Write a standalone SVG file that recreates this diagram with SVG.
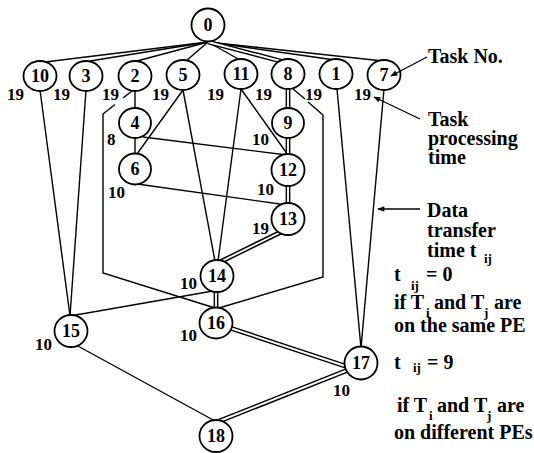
<svg xmlns="http://www.w3.org/2000/svg" width="534" height="453" viewBox="0 0 534 453">
<defs>
<style>
.n ellipse{fill:#fff;stroke:#000;stroke-width:1.8}
.n text{font-family:"Liberation Serif",serif;font-weight:bold;font-size:18px;text-anchor:middle;fill:#000}
.e line,.e polyline{stroke:#000;stroke-width:1.4;fill:none}
.e .d{stroke:#000;stroke-width:4.8}
.e .w{stroke:#fff;stroke-width:1.9}
.lb{font-family:"Liberation Serif",serif;font-weight:bold;font-size:17px;fill:#000}
.t{font-family:"Liberation Serif",serif;font-weight:bold;font-size:20px;fill:#000}
.s{font-size:13px}
.ar{stroke:#000;stroke-width:1.3;fill:none}
</style>
<marker id="ah" viewBox="0 0 10 10" refX="9" refY="5" markerWidth="8" markerHeight="7" orient="auto" markerUnits="userSpaceOnUse">
<path d="M0,1 L10,5 L0,9 z" fill="#000"/>
</marker>
</defs>
<rect width="534" height="453" fill="#fff"/>
<g id="connectors" class="e">
<line x1="208" y1="42" x2="45" y2="62"/>
<line x1="208" y1="42" x2="90" y2="61"/>
<line x1="208" y1="42" x2="137" y2="61"/>
<line x1="208" y1="42" x2="186" y2="61"/>
<line x1="208" y1="42" x2="240" y2="60"/>
<line x1="208" y1="42" x2="335" y2="60"/>
<line x1="208" y1="42" x2="383" y2="61"/>
<line class="d" x1="208" y1="42" x2="284" y2="62"/>
<line class="w" x1="208" y1="42" x2="284" y2="62"/>
<line x1="40" y1="90" x2="70" y2="316"/>
<line x1="86" y1="90" x2="70" y2="316"/>
<line x1="135" y1="91" x2="135" y2="108"/>
<line x1="132" y1="91" x2="123" y2="98"/>
<polyline points="115,104.5 103,114 103,273 215,308"/>
<line x1="293" y1="89" x2="305" y2="99"/>
<polyline points="308,102 323,115 323,277 219,308"/>
<line x1="135" y1="138" x2="135" y2="154"/>
<line x1="143" y1="137" x2="287" y2="155"/>
<line x1="183" y1="90" x2="137" y2="154"/>
<line x1="183" y1="90" x2="215" y2="261"/>
<line x1="241" y1="89" x2="218" y2="261"/>
<line x1="241" y1="89" x2="288" y2="155"/>
<line class="d" x1="288" y1="88" x2="288" y2="109"/>
<line class="w" x1="288" y1="88" x2="288" y2="109"/>
<line class="d" x1="288" y1="137" x2="288" y2="156"/>
<line class="w" x1="288" y1="137" x2="288" y2="156"/>
<line x1="137" y1="184" x2="287" y2="205"/>
<line class="d" x1="288" y1="184" x2="288" y2="205"/>
<line class="w" x1="288" y1="184" x2="288" y2="205"/>
<line class="d" x1="281" y1="232" x2="220" y2="262"/>
<line class="w" x1="281" y1="232" x2="220" y2="262"/>
<line class="d" x1="216" y1="290" x2="216" y2="309"/>
<line class="w" x1="216" y1="290" x2="216" y2="309"/>
<line x1="213" y1="291" x2="70" y2="316"/>
<line x1="337" y1="89" x2="361" y2="348"/>
<line x1="384" y1="89" x2="361" y2="348"/>
<line x1="76" y1="345" x2="215" y2="421"/>
<line class="d" x1="230" y1="328" x2="348" y2="367"/>
<line class="w" x1="230" y1="328" x2="348" y2="367"/>
<line class="d" x1="348" y1="370" x2="217" y2="422"/>
<line class="w" x1="348" y1="370" x2="217" y2="422"/>
</g>
<g id="node0" class="n"><ellipse cx="208" cy="25" rx="16.5" ry="16.5"/><text x="208" y="31">0</text></g>
<g id="node10" class="n"><ellipse cx="40" cy="76" rx="16.5" ry="15"/><text x="40" y="82">10</text></g>
<g id="node3" class="n"><ellipse cx="86" cy="76" rx="16.5" ry="15"/><text x="86" y="82">3</text></g>
<g id="node2" class="n"><ellipse cx="135" cy="76" rx="16.5" ry="15"/><text x="135" y="82">2</text></g>
<g id="node5" class="n"><ellipse cx="183" cy="75" rx="16.5" ry="15"/><text x="183" y="81">5</text></g>
<g id="node11" class="n"><ellipse cx="241" cy="74" rx="16.5" ry="15"/><text x="241" y="80">11</text></g>
<g id="node8" class="n"><ellipse cx="288" cy="74" rx="16.5" ry="15"/><text x="288" y="80">8</text></g>
<g id="node1" class="n"><ellipse cx="336" cy="74" rx="16.5" ry="15"/><text x="336" y="80">1</text></g>
<g id="node7" class="n"><ellipse cx="384" cy="75" rx="16.5" ry="15"/><text x="384" y="81">7</text></g>
<g id="node4" class="n"><ellipse cx="135" cy="123" rx="16" ry="15"/><text x="135" y="129">4</text></g>
<g id="node9" class="n"><ellipse cx="288" cy="123" rx="16" ry="15"/><text x="288" y="129">9</text></g>
<g id="node6" class="n"><ellipse cx="135" cy="169" rx="16" ry="15.5"/><text x="135" y="175">6</text></g>
<g id="node12" class="n"><ellipse cx="288" cy="170" rx="16.5" ry="16"/><text x="288" y="176">12</text></g>
<g id="node13" class="n"><ellipse cx="288" cy="219" rx="16.5" ry="16"/><text x="288" y="225">13</text></g>
<g id="node14" class="n"><ellipse cx="217" cy="276" rx="16.5" ry="16"/><text x="217" y="282">14</text></g>
<g id="node16" class="n"><ellipse cx="216" cy="323" rx="16.5" ry="15.5"/><text x="216" y="329">16</text></g>
<g id="node15" class="n"><ellipse cx="71" cy="331" rx="16.5" ry="16"/><text x="71" y="337">15</text></g>
<g id="node17" class="n"><ellipse cx="361" cy="363" rx="16.5" ry="16.5"/><text x="361" y="369">17</text></g>
<g id="node18" class="n"><ellipse cx="216" cy="436" rx="16.5" ry="16"/><text x="216" y="442">18</text></g>
<g id="labels">
<text class="lb" x="7" y="100">19</text>
<text class="lb" x="53" y="100">19</text>
<text class="lb" x="102" y="100">19</text>
<text class="lb" x="152" y="100">19</text>
<text class="lb" x="207" y="100">19</text>
<text class="lb" x="255" y="100">19</text>
<text class="lb" x="305" y="100">19</text>
<text class="lb" x="354" y="100">19</text>
<text class="lb" x="107" y="145">8</text>
<text class="lb" x="108" y="198">10</text>
<text class="lb" x="252" y="145">10</text>
<text class="lb" x="257" y="195">10</text>
<text class="lb" x="252" y="234">19</text>
<text class="lb" x="180" y="289">10</text>
<text class="lb" x="180" y="341">10</text>
<text class="lb" x="35" y="350">10</text>
<text class="lb" x="333" y="396">10</text>
</g>
<g id="legend">
<text class="t" x="428" y="63">Task No.</text>
<line class="ar" x1="427" y1="57" x2="391" y2="76" marker-end="url(#ah)"/>
<text class="t" x="428" y="126">Task<tspan x="428" y="145">processing</tspan><tspan x="428" y="164">time</tspan></text>
<line class="ar" x1="420" y1="119" x2="374" y2="97" marker-end="url(#ah)"/>
<line class="ar" x1="420" y1="209" x2="378" y2="209" marker-end="url(#ah)"/>
<text class="t" x="427" y="217">Data<tspan x="427" y="237">transfer</tspan><tspan x="427" y="257">time t</tspan><tspan class="s" x="484" y="263">ij</tspan></text>
<text class="t" x="394" y="281">t<tspan class="s" x="411" y="290">ij</tspan><tspan x="426" y="281">= 0</tspan><tspan x="394" y="309">if T</tspan><tspan class="s" x="426" y="317">i</tspan><tspan x="434" y="309">and T</tspan><tspan class="s" x="484" y="317">j</tspan><tspan x="494" y="309">are</tspan><tspan x="394" y="332">on the same PE</tspan></text>
<text class="t" x="394" y="369">t<tspan class="s" x="413" y="372">ij</tspan><tspan x="427" y="369">= 9</tspan><tspan x="397" y="412">if T</tspan><tspan class="s" x="429" y="420">i</tspan><tspan x="437" y="412">and T</tspan><tspan class="s" x="487" y="420">j</tspan><tspan x="497" y="412">are</tspan><tspan x="394" y="439">on different PEs</tspan></text>
</g>
</svg>
